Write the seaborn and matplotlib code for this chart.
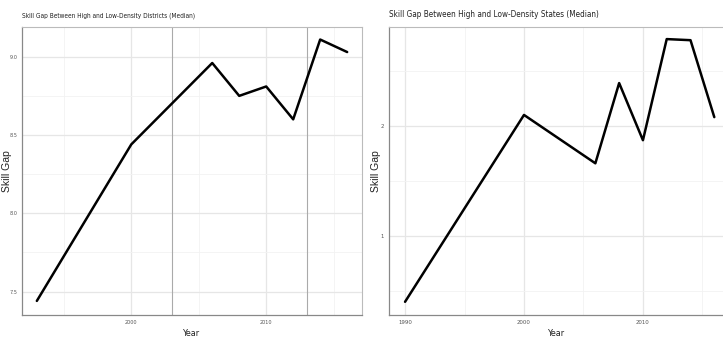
import matplotlib
matplotlib.use("Agg")
import matplotlib.pyplot as plt
import seaborn as sns
import pandas as pd
from matplotlib.ticker import MultipleLocator, FormatStrFormatter

sns.set_theme(style="whitegrid")
plt.rcParams['font.family'] = ['DejaVu Sans']

# Data
district_years = [1993, 2000, 2006, 2008, 2010, 2012, 2014, 2016]
district_gap = [7.44, 8.44, 8.96, 8.75, 8.81, 8.60, 9.11, 9.03]
state_years = [1990, 2000, 2006, 2008, 2010, 2012, 2014, 2016]
state_gap = [0.40, 2.10, 1.66, 2.39, 1.87, 2.79, 2.78, 2.08]
district_vlines = [2003, 2013]
titles = ["Skill Gap Between High and Low-Density Districts (Median)",
          "Skill Gap Between High and Low-Density States (Median)"]

df_d = pd.DataFrame({"Year": district_years, "Skill Gap": district_gap})
df_s = pd.DataFrame({"Year": state_years, "Skill Gap": state_gap})

W, H = 723, 344
fig = plt.figure(figsize=(W / 100, H / 100), dpi=100)
ax1 = fig.add_axes([22 / W, (H - 315) / H, 340 / W, 288 / H])
ax2 = fig.add_axes([389 / W, (H - 315) / H, 336 / W, 288 / H])

def style(ax, title, xmaj, ymaj, xlim, ylim, title_size, tick_size, ylab_x):
    ax.set_xlim(*xlim)
    ax.set_ylim(*ylim)
    ax.xaxis.set_major_locator(MultipleLocator(xmaj))
    ax.xaxis.set_minor_locator(MultipleLocator(xmaj / 2))
    ax.yaxis.set_major_locator(MultipleLocator(ymaj))
    ax.yaxis.set_minor_locator(MultipleLocator(ymaj / 2))
    ax.grid(which='major', color='#E6E6E6', linewidth=0.9)
    ax.grid(which='minor', color='#F2F2F2', linewidth=0.6)
    ax.set_axisbelow(True)
    for s in ['top', 'right']:
        ax.spines[s].set_color('#BBBBBB')
        ax.spines[s].set_linewidth(0.8)
    for s in ['left', 'bottom']:
        ax.spines[s].set_color('#888888')
        ax.spines[s].set_linewidth(0.9)
    ax.tick_params(axis='both', which='major', labelsize=tick_size, colors='#444444',
                   length=2, width=0.5, pad=1.5, labelcolor='#555555')
    ax.tick_params(which='minor', length=0)
    for lab in ax.get_xticklabels() + ax.get_yticklabels():
        lab.set_fontstretch('condensed')
    ax.set_title(title, loc='left', fontsize=title_size, color='#222222', pad=7,
                 fontstretch='condensed')
    ax.set_xlabel("Year", fontsize=6.5, color='#222222', labelpad=3,
                  fontstretch='condensed')
    ax.set_ylabel("Skill Gap", fontsize=7.5, color='#222222',
                  family=['Liberation Sans', 'DejaVu Sans'])
    ax.yaxis.set_label_coords(ylab_x, 0.5)

sns.lineplot(data=df_d, x="Year", y="Skill Gap", ax=ax1, color='black', linewidth=1.8)
for v in district_vlines:
    ax1.axvline(v, color='#AAAAAA', linewidth=0.8, zorder=1)
ax1.yaxis.set_major_formatter(FormatStrFormatter('%.1f'))
style(ax1, titles[0], 10, 0.5, (1991.9, 2017.1), (7.35, 9.19), 4.7, 4.0, -0.03)

sns.lineplot(data=df_s, x="Year", y="Skill Gap", ax=ax2, color='black', linewidth=1.8)
ax2.yaxis.set_major_formatter(FormatStrFormatter('%d'))
style(ax2, titles[1], 10, 1, (1988.65, 2016.9), (0.28, 2.9), 5.9, 4.3, -0.024)

fig.savefig("out.png", dpi=100, facecolor='white')
